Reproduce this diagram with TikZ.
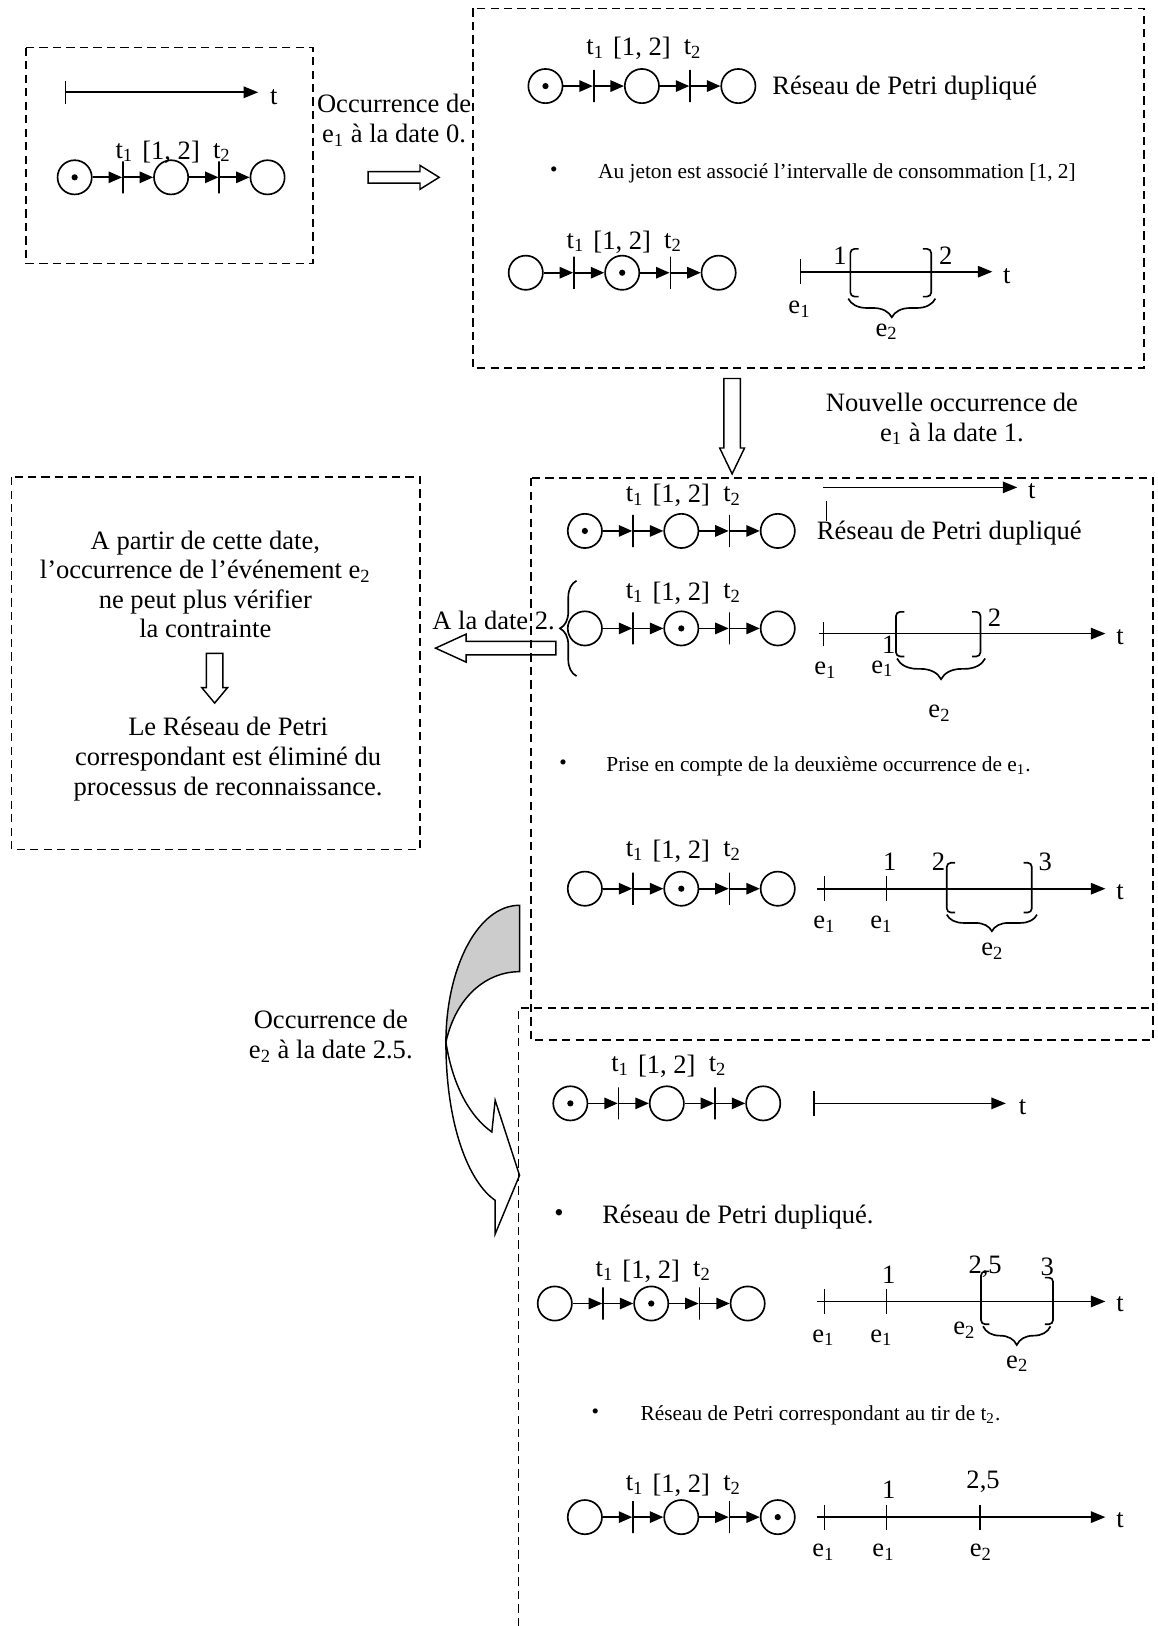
\documentclass[tikz,border=0pt]{standalone}
\usepackage{fontspec}
\setmainfont{Liberation Serif}
\usetikzlibrary{arrows.meta,decorations.pathreplacing}
\tikzset{
 pplace/.style={circle,draw,minimum size=16.5pt,inner sep=0pt},
 ptrans/.style={draw,rectangle,minimum width=0pt,minimum height=15.5pt,inner sep=0pt},
 tokdot/.style={circle,fill,minimum size=3pt,inner sep=0pt},
 parc/.style={-{Triangle[length=6.5pt,width=5.5pt]}},
 tline/.style={-{Triangle[length=7pt,width=5.5pt]}},
 dbox/.style={dash pattern=on 4pt off 2.5pt,line width=0.75pt},
 bigtxt/.style={font=\fontsize{12.8}{14.4}\selectfont},
 smalltxt/.style={font=\fontsize{10.3}{12}\selectfont},
 lab/.style={bigtxt,inner sep=0pt},
 hollow/.style={draw,line width=0.7pt},
 bkt/.style={rounded corners=2pt},
 brc/.style={draw,decorate,decoration={brace,amplitude=#1}},
}
\newcommand\pnet[5]{%
 \node[pplace] (#1a) at (#2,#3) {};
 \node[ptrans] (#1b) at ({#2+46.5},#3) {};
 \node[pplace] (#1c) at ({#2+93},#3) {};
 \node[ptrans] (#1d) at ({#2+139.5},#3) {};
 \node[pplace] (#1e) at ({#2+186},#3) {};
 \node[tokdot] (#1k) at (#1#4) {};
 \draw[parc] (#1a) -- (#1b);
 \draw[parc] (#1b) -- (#1c);
 \draw[parc] (#1c) -- (#1d);
 \draw[parc] (#1d) -- (#1e);
 \node[lab] (#1l) at ({#2+48},#5) {t\textsubscript{1}};
 \node[lab] (#1m) at ({#2+93},#5) {[1, 2]};
 \node[lab] (#1n) at ({#2+142},#5) {t\textsubscript{2}};
}
\begin{document}
\begin{tikzpicture}[x=0.5pt,y=-0.5pt,line width=0.8pt]
\useasboundingbox[fill=white] (0,0) rectangle (1116,1568);

% ---------- curved arrow ----------
\draw[line width=0.7pt] (430,1005) .. controls (430,1085) and (452,1140) .. (477.5,1157.5)
  -- (477.5,1190) -- (501,1133.4) -- (477.5,1061) -- (474.3,1091.6)
  .. controls (455,1078) and (437,1050) .. (430,1005);
\draw[line width=0.7pt,fill=black!20] (501,873) -- (501,937) .. controls (470,937) and (440,960) .. (430,1005)
  .. controls (430,935) and (460,873) .. (501,873) -- cycle;

% ---------- box 1 ----------
\draw[dbox] (25,46) rectangle (302,254);
\coordinate (a1s) at (63,89); \coordinate (a1e) at (249,89);
\draw[tline] (a1s) -- (a1e);
\draw (63,78) -- (63,100);
\node[lab] (a1t) at (264,94) {t};
\pnet{na}{72}{171}{a}{147}

\node[bigtxt,align=center] (occ1) at (380,116) {Occurrence de\\e\textsubscript{1} à la date 0.};
\draw[hollow] (355,165.5) -- (405,165.5) -- (405,159.5) -- (423.5,171) -- (405,182.5) -- (405,176.5) -- (355,176.5) -- cycle;

% ---------- box 2 ----------
\draw[dbox] (456,8) rectangle (1103,355);
\pnet{nb}{526}{83}{a}{47}
\node[bigtxt,inner sep=0pt,anchor=base west] (r2) at (744,91) {Réseau de Petri dupliqué};
\node[smalltxt] (bu2) at (534,166) {•};
\node[smalltxt,inner sep=0pt,anchor=base west] (s2) at (576,172) {Au jeton est associé l’intervalle de consommation [1, 2]};
\pnet{nc}{507}{263}{c}{234}
\coordinate (a2s) at (772,262); \coordinate (a2e) at (957,262);
\draw[tline] (a2s) -- (a2e);
\draw (772,250) -- (772,274);
\node[lab] (a2t) at (971,266) {t};
\node[lab] (a2e1) at (771,298) {e\textsubscript{1}};
\node[lab] (a2n1) at (810,247) {1};
\draw[bkt] (828,240) -- (820,240) -- (820,286) -- (828,286);
\draw[bkt] (890,240) -- (898,240) -- (898,286) -- (890,286);
\node[lab] (a2n2) at (912,247) {2};
\draw[brc=9pt] (902,288) -- (818,288);
\node[lab] (a2e2) at (855,320) {e\textsubscript{2}};

% arrow box2 -> box3
\draw[hollow] (698,365) -- (714,365) -- (714,432) -- (718,432) -- (706,457) -- (694,432) -- (698,432) -- cycle;
\node[bigtxt,align=center] (nouv) at (918,404) {Nouvelle occurrence de\\e\textsubscript{1} à la date 1.};

% ---------- box 3 ----------
\pnet{nd}{564}{512}{a}{478}
\coordinate (a3s) at (794,470); \coordinate (a3e) at (981,470);
\draw[tline] (a3s) -- (a3e);
\node[lab] (a3t) at (995,474) {t};
\draw (797,483) -- (797,502);
\node[bigtxt,inner sep=0pt,anchor=base west] (r3) at (787,520) {Réseau de Petri dupliqué};

\pnet{ne}{564}{606}{c}{572}
\draw[brc=8pt] (556,652) -- (556,560);
\node[bigtxt] (date2) at (476,598) {A la date 2.};
\draw[hollow] (536,618.5) -- (449.5,618.5) -- (449.5,611.5) -- (420,625) -- (449.5,638.5) -- (449.5,631.5) -- (536,631.5) -- cycle;
\coordinate (a4s) at (790,611); \coordinate (a4e) at (1066,611);
\draw[tline] (a4s) -- (a4e);
\draw (794,600) -- (794,623);
\node[lab] (a4t) at (1080,614) {t};
\node[lab] (a4e1) at (796,646) {e\textsubscript{1}};
\node[lab] (a4e1b) at (851,645) {e\textsubscript{1}};
\node[lab] (a4n1) at (857,622) {1};
\draw[bkt] (872,590) -- (864,590) -- (864,633) -- (872,633);
\draw[bkt] (937.5,590) -- (945.5,590) -- (945.5,633) -- (937.5,633);
\node[lab] (a4n2) at (959,596) {2};
\draw[brc=10pt] (950,635) -- (865,635);
\node[lab] (a4e2) at (906,688) {e\textsubscript{2}};

\node[smalltxt] (bu3) at (543,737) {•};
\node[smalltxt,inner sep=0pt,anchor=base west] (s3) at (584,743.5) {Prise en compte de la deuxième occurrence de e\textsubscript{1}.};

\pnet{nf}{564}{857}{c}{821}
\coordinate (a5s) at (788,857); \coordinate (a5e) at (1066,857);
\draw[tline] (a5s) -- (a5e);
\draw (795,845) -- (795,869);
\draw (855,845) -- (855,869);
\node[lab] (a5t) at (1080,860) {t};
\node[lab] (a5n1) at (858,831) {1};
\node[lab] (a5n2) at (905,831) {2};
\draw[bkt] (921,832) -- (913,832) -- (913,880) -- (921,880);
\draw[bkt] (987,832) -- (995,832) -- (995,880) -- (987,880);
\node[lab] (a5n3) at (1008,831) {3};
\draw[brc=8pt] (1000,882) -- (913,882);
\node[lab] (a5e1) at (795,891) {e\textsubscript{1}};
\node[lab] (a5e1b) at (850,891) {e\textsubscript{1}};
\node[lab] (a5e2) at (957,917) {e\textsubscript{2}};

\draw[dbox] (512,461) rectangle (1112,1003);

% ---------- box 4 ----------
\draw[dbox] (500,1568) -- (500,972) -- (1112,972);
\node[bigtxt,align=center] (occ2) at (319,999.5) {Occurrence de\\e\textsubscript{2} à la date 2.5.};

\pnet{ng}{550}{1064}{a}{1028}
\coordinate (a6s) at (785,1064); \coordinate (a6e) at (970,1064);
\draw[tline] (a6s) -- (a6e);
\draw (785,1052) -- (785,1076);
\node[lab] (a6t) at (986,1068) {t};

\node[bigtxt] (bu4) at (539,1172) {•};
\node[bigtxt,inner sep=0pt,anchor=base west] (r4) at (580,1180) {Réseau de Petri dupliqué.};

\pnet{nh}{535}{1257}{c}{1226}
\coordinate (a7s) at (788,1255); \coordinate (a7e) at (1066,1255);
\draw[tline] (a7s) -- (a7e);
\draw (795,1243) -- (795,1267);
\draw (855,1243) -- (855,1267);
\node[lab] (a7t) at (1080,1258) {t};
\node[lab] (a7n1) at (857,1229) {1};
\node[lab] (a7n25) at (950,1222) {2,5};
\node[lab] (a7n3) at (1010,1222) {3};
\draw[bkt] (954,1226) -- (946,1226) -- (946,1277) -- (954,1277);
\draw[bkt] (1007.5,1232) -- (1015.5,1232) -- (1015.5,1277) -- (1007.5,1277);
\node[lab] (a7e2a) at (930,1283) {e\textsubscript{2}};
\draw[brc=9pt] (1013,1279) -- (948,1279);
\node[lab] (a7e2) at (981,1315) {e\textsubscript{2}};
\node[lab] (a7e1) at (794,1290) {e\textsubscript{1}};
\node[lab] (a7e1b) at (850,1290) {e\textsubscript{1}};

\node[smalltxt] (bu5) at (574,1363) {•};
\node[smalltxt,inner sep=0pt,anchor=base west] (s5) at (617,1369.5) {Réseau de Petri correspondant au tir de t\textsubscript{2}.};

\pnet{ni}{564}{1463}{e}{1432}
\coordinate (a8s) at (788,1463); \coordinate (a8e) at (1066,1463);
\draw[tline] (a8s) -- (a8e);
\draw (795,1451) -- (795,1475);
\draw (855,1451) -- (855,1475);
\draw (945,1451) -- (945,1475);
\node[lab] (a8t) at (1080,1466) {t};
\node[lab] (a8n1) at (857,1437) {1};
\node[lab] (a8n25) at (948,1429) {2,5};
\node[lab] (a8e1) at (794,1497) {e\textsubscript{1}};
\node[lab] (a8e1b) at (852,1497) {e\textsubscript{1}};
\node[lab] (a8e2) at (946,1497) {e\textsubscript{2}};

% ---------- left box ----------
\draw[dbox] (11,460) rectangle (405,819);
\node[bigtxt,align=center,font=\fontsize{12.8}{14.2}\selectfont] (lt1) at (198,563.5) {A partir de cette date,\\l’occurrence de l’événement e\textsubscript{2}\\ne peut plus vérifier\\la contrainte};
\draw[hollow] (199,630) -- (215,630) -- (215,663) -- (219.5,663) -- (207,678) -- (194.5,663) -- (199,663) -- cycle;
\node[bigtxt,align=center,font=\fontsize{12.8}{14.5}\selectfont] (lt2) at (220,732) {Le Réseau de Petri\\correspondant est éliminé du\\processus de reconnaissance.};
\end{tikzpicture}
\end{document}
